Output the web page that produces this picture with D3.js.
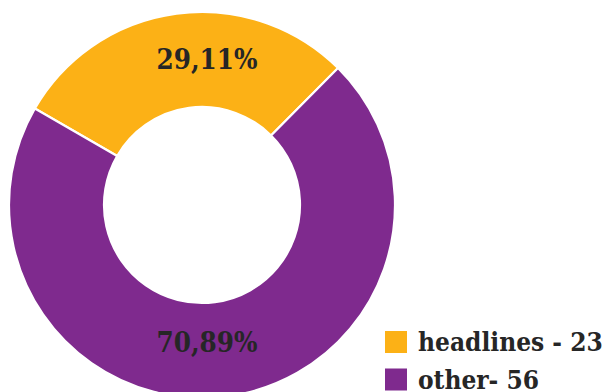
<!DOCTYPE html>
<html>
<head>
<meta charset="utf-8">
<script src="https://cdn.jsdelivr.net/npm/d3@7"></script>
<style>
  html, body { margin: 0; padding: 0; background: #fff; overflow: hidden; }
  svg { display: block; }
  .lbl { font-family: "DejaVu Serif", serif; font-stretch: condensed; font-weight: bold; fill: #262626; }
</style>
</head>
<body>
<svg id="chart" width="607" height="392"></svg>
<script>
// Share of items by category
const categories = ["headlines", "other"];
const counts = [23, 56];
const legendLabels = ["headlines - 23", "other- 56"];
const colors = ["#FCB116", "#7F2A8E"];

const svg = d3.select("#chart");
const cx = 202, cy = 205, outerR = 193, innerR = 98;

const data = categories.map((c, i) => ({ category: c, value: counts[i] }));
const total = d3.sum(counts);

const pie = d3.pie()
  .value(d => d.value)
  .sort(null)
  .startAngle(-Math.PI / 3)
  .endAngle(-Math.PI / 3 + 2 * Math.PI);

const arc = d3.arc().innerRadius(innerR).outerRadius(outerR);
const color = d3.scaleOrdinal().domain(categories).range(colors);

const g = svg.append("g").attr("transform", `translate(${cx},${cy})`);
const arcs = pie(data);

g.selectAll("path.slice")
  .data(arcs)
  .join("path")
  .attr("class", "slice")
  .attr("d", arc)
  .attr("fill", d => color(d.data.category))
  .attr("stroke", "#fff")
  .attr("stroke-width", 2.2);

// Percentage labels, comma decimal separator, set inside the ring
const fmt = v => (v / total * 100).toFixed(2).replace(".", ",") + "%";
const labelR = 143;
g.selectAll("text.pct")
  .data(arcs)
  .join("text")
  .attr("class", "lbl pct")
  .attr("x", 5)
  .attr("y", d => {
    const [x, y] = arc.centroid(d);
    return y / Math.hypot(x, y) * labelR - 4;
  })
  .attr("dy", "0.35em")
  .attr("text-anchor", "middle")
  .style("font-size", "27.5px")
  .text(d => fmt(d.data.value));

// Legend
const legend = svg.append("g").attr("transform", "translate(385,331)");
const rows = legend.selectAll("g")
  .data(categories)
  .join("g")
  .attr("transform", (d, i) => `translate(0,${i * 37.5})`);
rows.append("rect")
  .attr("width", 22).attr("height", 22)
  .attr("fill", d => color(d));
rows.append("text")
  .attr("class", "lbl")
  .attr("x", 33).attr("y", 20)
  .style("font-size", "26px")
  .text((d, i) => legendLabels[i]);
</script>
</body>
</html>
